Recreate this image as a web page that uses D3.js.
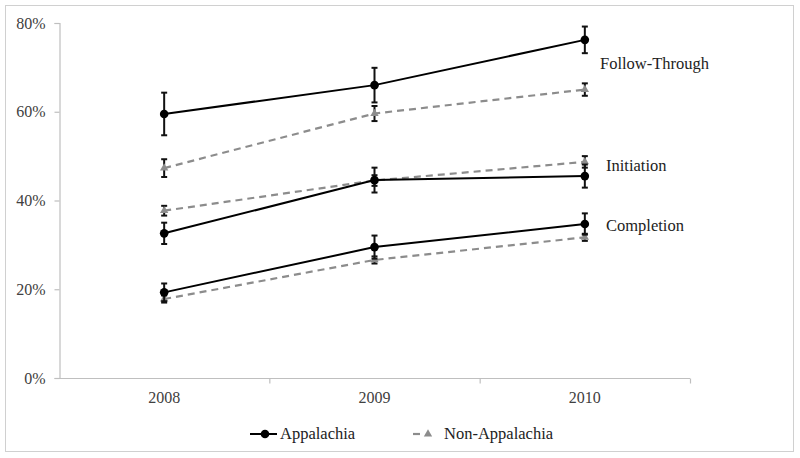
<!DOCTYPE html>
<html>
<head>
<meta charset="utf-8">
<script src="https://cdn.jsdelivr.net/npm/d3@7"></script>
<style>
  body { margin: 0; background: #fff; }
  svg { display: block; }
  svg text { font-family: "Liberation Serif", "Times New Roman", Times, "DejaVu Serif", serif !important; }
</style>
</head>
<body>
<svg id="chart" width="800" height="458"></svg>
<script>
const years = ["2008", "2009", "2010"];
const yTicks = [0, 20, 40, 60, 80];
const groups = ["Follow-Through", "Initiation", "Completion"];
const seriesNames = ["Appalachia", "Non-Appalachia"];

// Appalachia values (%) and error half-widths
const appFollow = [59.5, 66.0, 76.2];
const appFollowErr = [4.8, 3.9, 3.0];
const appInit = [32.6, 44.6, 45.5];
const appInitErr = [2.4, 2.8, 2.6];
const appComp = [19.3, 29.5, 34.7];
const appCompErr = [2.0, 2.6, 2.4];

// Non-Appalachia values (%) and error half-widths
const nonFollow = [47.3, 59.6, 65.0];
const nonFollowErr = [2.0, 1.7, 1.4];
const nonInit = [37.7, 44.5, 48.7];
const nonInitErr = [1.1, 1.2, 1.3];
const nonComp = [17.8, 26.6, 31.7];
const nonCompErr = [0.8, 0.8, 0.8];

const svg = d3.select("#chart");

// outer border
svg.append("rect").attr("x", 5.5).attr("y", 5.5).attr("width", 788).attr("height", 446)
  .attr("fill", "#fff").attr("stroke", "#d0d0d0").attr("stroke-width", 1);

const plot = { left: 59, right: 690, top: 23, bottom: 378 };

const x = d3.scaleBand().domain(years).range([plot.left, plot.right]);
const y = d3.scaleLinear().domain([0, 80]).range([plot.bottom, plot.top]);
const cx = d => x(d) + x.bandwidth() / 2;

const axisColor = "#bfbfbf";
const textColor = "#404040";

// Y axis
const yAxis = svg.append("g").attr("transform", `translate(${plot.left + 0.5},0)`)
  .call(d3.axisLeft(y).tickValues(yTicks).tickSize(5).tickPadding(9).tickFormat(d => d + "%"));
yAxis.attr("font-family", null);
yAxis.select(".domain").attr("stroke", axisColor).attr("stroke-width", 1.2);
yAxis.selectAll(".tick line").attr("stroke", axisColor).attr("stroke-width", 1.2);
yAxis.selectAll(".tick text").attr("fill", textColor).style("font-size", "16px");

// X axis
const xAxis = svg.append("g").attr("transform", `translate(0,${plot.bottom + 0.5})`)
  .call(d3.axisBottom(x).tickSize(0).tickPadding(13));
xAxis.attr("font-family", null);
xAxis.select(".domain").attr("stroke", axisColor).attr("stroke-width", 1.2)
  .attr("d", `M${plot.left},0H${plot.right}`);
xAxis.selectAll(".tick text").attr("fill", textColor).style("font-size", "16px");
// tick marks at band boundaries
const bounds = years.map(d => x(d)).slice(1).concat([plot.right]);
xAxis.selectAll("line.sep").data(bounds).join("line").attr("class", "sep")
  .attr("x1", d => d + 0.5).attr("x2", d => d + 0.5).attr("y1", 0).attr("y2", 5)
  .attr("stroke", axisColor).attr("stroke-width", 1.2);

const appSeries = [
  { vals: appFollow, err: appFollowErr },
  { vals: appInit, err: appInitErr },
  { vals: appComp, err: appCompErr }
];
const nonSeries = [
  { vals: nonFollow, err: nonFollowErr },
  { vals: nonInit, err: nonInitErr },
  { vals: nonComp, err: nonCompErr }
];

const line = d3.line().x((d, i) => cx(years[i])).y(d => y(d));
const tri = d3.symbol().type(d3.symbolTriangle).size(30);

function drawErr(g, s) {
  s.vals.forEach((v, i) => {
    const xx = cx(years[i]);
    const y1 = y(v + s.err[i]), y2 = y(v - s.err[i]);
    g.append("line").attr("x1", xx).attr("x2", xx).attr("y1", y1).attr("y2", y2)
      .attr("stroke", "#111").attr("stroke-width", 2);
    [y1, y2].forEach(yy => g.append("line").attr("x1", xx - 3).attr("x2", xx + 3)
      .attr("y1", yy).attr("y2", yy).attr("stroke", "#111").attr("stroke-width", 2));
  });
}

// Non-Appalachia (drawn first, under)
const gNon = svg.append("g");
nonSeries.forEach(s => {
  gNon.append("path").datum(s.vals).attr("d", line).attr("fill", "none")
    .attr("stroke", "#8c8c8c").attr("stroke-width", 2.2).attr("stroke-dasharray", "7,5");
  drawErr(gNon, s);
  s.vals.forEach((v, i) => gNon.append("path").attr("d", tri)
    .attr("transform", `translate(${cx(years[i])},${y(v)})`).attr("fill", "#8c8c8c"));
});

// Appalachia
const gApp = svg.append("g");
appSeries.forEach(s => {
  gApp.append("path").datum(s.vals).attr("d", line).attr("fill", "none")
    .attr("stroke", "#000").attr("stroke-width", 2);
  drawErr(gApp, s);
  s.vals.forEach((v, i) => gApp.append("circle").attr("cx", cx(years[i])).attr("cy", y(v))
    .attr("r", 4.3).attr("fill", "#000"));
});

// group labels
const labelPos = [
  { text: groups[0], x: 600, y: 69 },
  { text: groups[1], x: 606, y: 171 },
  { text: groups[2], x: 606, y: 231 }
];
svg.selectAll("text.grp").data(labelPos).join("text").attr("class", "grp")
  .attr("x", d => d.x).attr("y", d => d.y).text(d => d.text)
  .attr("fill", "#222").style("font-size", "16.5px");

// legend
const lg = svg.append("g");
lg.append("line").attr("x1", 250).attr("x2", 277).attr("y1", 434).attr("y2", 434)
  .attr("stroke", "#000").attr("stroke-width", 2);
lg.append("circle").attr("cx", 265).attr("cy", 434).attr("r", 4.3).attr("fill", "#000");
lg.append("text").attr("x", 280).attr("y", 439).text(seriesNames[0])
  .attr("fill", "#222").style("font-size", "16.5px");
lg.append("line").attr("x1", 413).attr("x2", 420).attr("y1", 434).attr("y2", 434)
  .attr("stroke", "#8c8c8c").attr("stroke-width", 2.2);
lg.append("path").attr("d", tri).attr("transform", "translate(428,434)").attr("fill", "#8c8c8c");
lg.append("text").attr("x", 444).attr("y", 439).text(seriesNames[1])
  .attr("fill", "#222").style("font-size", "16.5px");
</script>
</body>
</html>
